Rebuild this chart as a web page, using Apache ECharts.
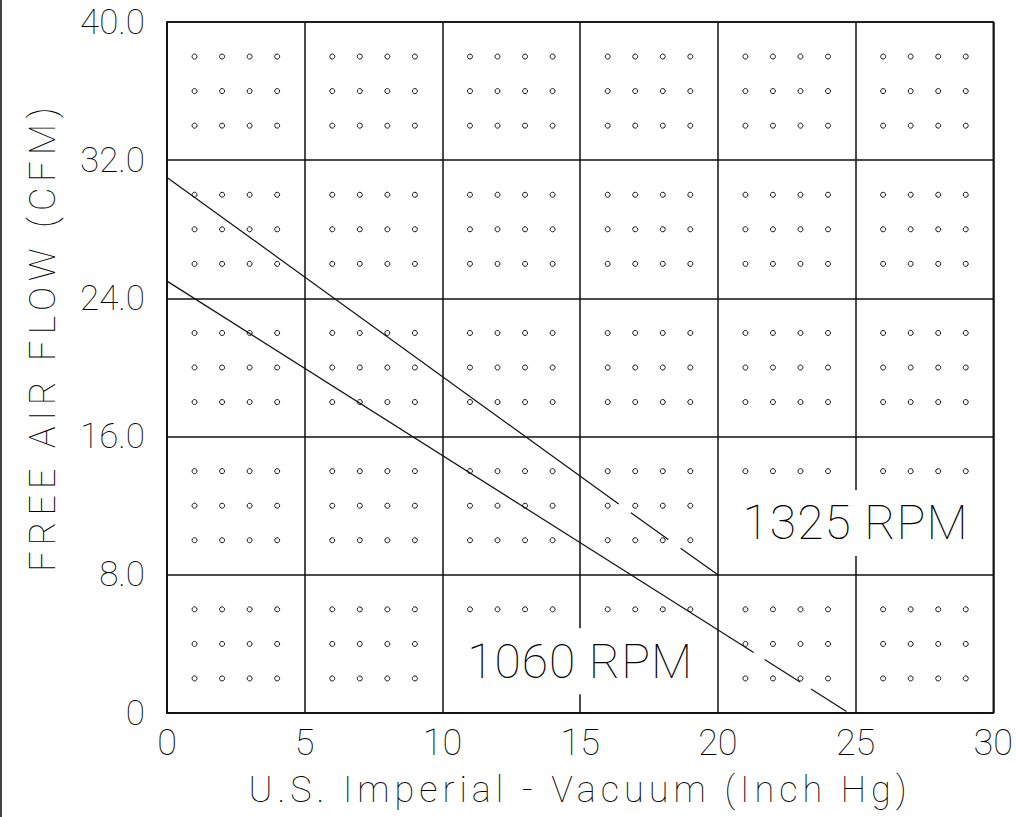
<!DOCTYPE html>
<html>
<head>
<meta charset="utf-8">
<script src="https://cdn.jsdelivr.net/npm/echarts@6/dist/echarts.min.js"></script>
<style>
  html, body { margin: 0; padding: 0; background: #fff; }
  #chart { width: 1016px; height: 817px; }
</style>
</head>
<body>
<div id="chart"></div>
<script>
// ---- data ----
var xTicks = [0, 5, 10, 15, 20, 25, 30];
var yTicks = [0, 8, 16, 24, 32, 40];

// 1325 RPM curve: solid part then dashed tail
var rpm1325SolidX = [0, 16.4];
var rpm1325SolidY = [31, 12.1];
var rpm1325DashX = [16.4, 20];
var rpm1325DashY = [12.1, 8];

// 1060 RPM curve: solid part then dashed tail
var rpm1060SolidX = [0, 21.3];
var rpm1060SolidY = [25, 3.5];
var rpm1060DashX = [21.3, 24.75];
var rpm1060DashY = [3.5, 0];

// minor grid dot positions
var dotX = [1, 2, 3, 4, 6, 7, 8, 9, 11, 12, 13, 14, 16, 17, 18, 19, 21, 22, 23, 24, 26, 27, 28, 29];
var dotY = [2, 4, 6, 10, 12, 14, 18, 20, 22, 26, 28, 30, 34, 36, 38];

// curve labels
var curveLabels = ['1325 RPM', '1060 RPM'];
var curveLabelX = [25, 15];
var curveLabelY = [11, 3];

var xTitle = 'U.S. Imperial - Vacuum (Inch Hg)';
var yTitle = 'FREE AIR FLOW (CFM)';

// ---- build ----
function pairs(xs, ys) { return xs.map(function (x, i) { return [x, ys[i]]; }); }
var dots = [];
dotX.forEach(function (x) { dotY.forEach(function (y) { dots.push([x, y]); }); });
var labelData = curveLabels.map(function (t, i) { return { value: [curveLabelX[i], curveLabelY[i]], name: t }; });

var FONT = 'Roboto';
var FW = 100;
var TXT = '#000';

var chart = echarts.init(document.getElementById('chart'), null, { renderer: 'svg' });
chart.setOption({
  animation: false,
  backgroundColor: '#fff',
  grid: { left: 167, right: 20, top: 22, bottom: 104, show: true, borderColor: '#111', borderWidth: 1.5 },
  xAxis: {
    type: 'value', min: xTicks[0], max: xTicks[xTicks.length - 1], interval: 5,
    name: xTitle, nameLocation: 'middle', nameGap: 59,
    nameTextStyle: { fontFamily: FONT, fontWeight: FW, fontSize: 36, color: TXT },
    axisLine: { show: true, lineStyle: { color: '#111', width: 1.5 } },
    axisTick: { show: false },
    axisLabel: { margin: 12, fontFamily: FONT, fontWeight: FW, fontSize: 36, color: TXT },
    splitLine: { show: true, lineStyle: { color: '#111', width: 1.5 } }
  },
  yAxis: {
    type: 'value', min: yTicks[0], max: yTicks[yTicks.length - 1], interval: 8,
    name: yTitle, nameLocation: 'middle', nameGap: 106, nameRotate: 90,
    nameTextStyle: { fontFamily: FONT, fontWeight: FW, fontSize: 36, color: TXT, padding: [0, 0, 0, 62] },
    axisLine: { show: true, lineStyle: { color: '#111', width: 1.5 } },
    axisTick: { show: false },
    axisLabel: {
      margin: 22, fontFamily: FONT, fontWeight: FW, fontSize: 35, color: TXT,
      formatter: function (v) { return v === 0 ? '0' : v.toFixed(1); }
    },
    splitLine: { show: true, lineStyle: { color: '#111', width: 1.5 } }
  },
  graphic: [
    { type: 'rect', left: 0, top: 0, shape: { width: 2, height: 817 }, style: { fill: '#444' } }
  ],
  series: [
    {
      type: 'scatter', data: dots, symbol: 'circle', symbolSize: 5, z: 1, silent: true,
      itemStyle: { color: '#fff', borderColor: '#111', borderWidth: 1, opacity: 1 }
    },
    {
      type: 'line', data: pairs(rpm1325SolidX, rpm1325SolidY), showSymbol: false, z: 3,
      lineStyle: { color: '#111', width: 1.2 }
    },
    {
      type: 'line', data: pairs(rpm1325DashX, rpm1325DashY), showSymbol: false, z: 3,
      lineStyle: { color: '#111', width: 1.2, type: [46, 15], dashOffset: 46 }
    },
    {
      type: 'line', data: pairs(rpm1060SolidX, rpm1060SolidY), showSymbol: false, z: 3,
      lineStyle: { color: '#111', width: 1.2 }
    },
    {
      type: 'line', data: pairs(rpm1060DashX, rpm1060DashY), showSymbol: false, z: 3,
      lineStyle: { color: '#111', width: 1.2, type: [42, 13], dashOffset: 42 }
    },
    {
      type: 'scatter', data: labelData, symbolSize: 0, z: 10, silent: true,
      itemStyle: { opacity: 1 },
      label: {
        show: true, position: 'inside', formatter: '{b}',
        fontFamily: FONT, fontWeight: FW, fontSize: 48, color: TXT,
        backgroundColor: '#fff', padding: [10, 12, 8, 12]
      }
    }
  ]
});

// widen the axis titles (reference lettering is widely spaced)
(function () {
  var texts = document.querySelectorAll('#chart svg text');
  texts.forEach(function (t) {
    var s = t.textContent;
    if (s === xTitle) t.setAttribute('letter-spacing', '5px');
    if (s === yTitle) t.setAttribute('letter-spacing', '6px');
    if (curveLabels.indexOf(s) >= 0) t.setAttribute('letter-spacing', '1px');
  });
})();
</script>
</body>
</html>
